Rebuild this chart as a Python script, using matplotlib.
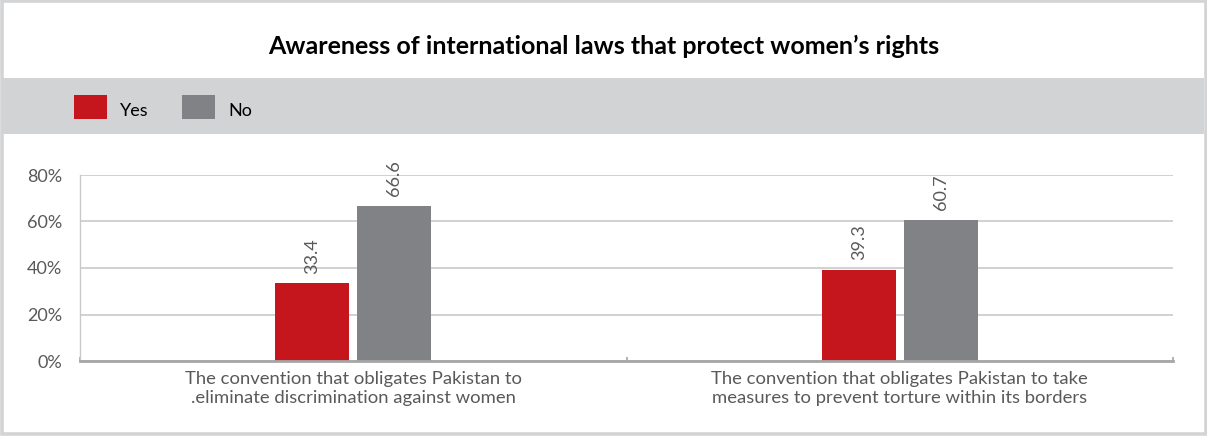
import matplotlib
matplotlib.use("Agg")
import matplotlib.pyplot as plt
from matplotlib.patches import Rectangle
import numpy as np

plt.rcParams['font.family'] = ['Lato', 'DejaVu Sans']

title = "Awareness of international laws that protect women\u2019s rights"
categories = [
    "The convention that obligates Pakistan to\n.eliminate discrimination against women",
    "The convention that obligates Pakistan to take\nmeasures to prevent torture within its borders",
]
series_names = ["Yes", "No"]
yes_values = [33.4, 39.3]
no_values = [66.6, 60.7]
yticks = [0, 20, 40, 60, 80]
ytick_labels = ["0%", "20%", "40%", "60%", "80%"]

RED = "#c4161c"
GREY = "#808285"
BAND = "#d1d3d4"
TEXT = "#595959"
GRID = "#c9c9c9"

W, H = 1207, 436
fig = plt.figure(figsize=(W / 100, H / 100), dpi=100)
fig.patch.set_facecolor("white")

def fx(px):
    return px / W

def fy(py):
    return 1 - py / H

# outer frame
fig.patches.append(Rectangle((fx(1.5), fy(433.5)), fx(W - 3), (433.5 - 1.5) / H,
                             transform=fig.transFigure, facecolor="none",
                             edgecolor="#d3d4d6", linewidth=2.6, zorder=0))
# legend band
fig.patches.append(Rectangle((fx(3), fy(134)), fx(1201), 56 / H,
                             transform=fig.transFigure, facecolor=BAND,
                             edgecolor="none", zorder=0))

fig.text(fx(604), fy(46), title, ha="center", va="center",
         fontsize=18, fontweight="bold", color="black")

# legend entries
legend_items = [(series_names[0], RED, 74), (series_names[1], GREY, 182)]
for name, col, x0 in legend_items:
    fig.patches.append(Rectangle((fx(x0), fy(119)), fx(33), 24 / H,
                                 transform=fig.transFigure, facecolor=col,
                                 edgecolor="none", zorder=1))
    fig.text(fx(x0 + 46), fy(111), name, ha="left", va="center",
             fontsize=13, color="black")

ax = fig.add_axes([fx(80), fy(361), fx(1173 - 80), (361 - 175) / H])
x = np.arange(len(categories))
bw = 0.135
gap = 0.0146
off = (bw + gap) / 2
b1 = ax.bar(x - off, yes_values, bw, color=RED, zorder=3)
b2 = ax.bar(x + off, no_values, bw, color=GREY, zorder=3)
for bars, vals in ((b1, yes_values), (b2, no_values)):
    for rect, v in zip(bars, vals):
        ax.annotate(f"{v:.1f}", (rect.get_x() + rect.get_width() / 2, v),
                    xytext=(0, 7), textcoords="offset points",
                    rotation=90, ha="center", va="bottom",
                    fontsize=13, color=TEXT)

ax.set_xlim(-0.5, len(categories) - 0.5)
ax.set_ylim(0, 80)
ax.set_yticks(yticks)
ax.set_yticklabels(ytick_labels)
ax.yaxis.grid(True, color=GRID, linewidth=1.2, zorder=0)
ax.set_axisbelow(True)
ax.tick_params(axis="y", length=0, pad=13, labelsize=13, labelcolor=TEXT)

ax.set_xticks(x)
ax.set_xticklabels(categories, fontsize=13.3, color=TEXT, linespacing=1.25)
ax.tick_params(axis="x", which="major", length=0, pad=7)
ax.set_xticks(np.arange(-0.5, len(categories)), minor=True)
ax.tick_params(axis="x", which="minor", direction="in", length=3,
               width=1.2, color="#a6a6a6")

for s in ("top", "right"):
    ax.spines[s].set_visible(False)
ax.spines["left"].set_color(GRID)
ax.spines["left"].set_linewidth(1.0)
ax.spines["bottom"].set_color("#a6a6a6")
ax.spines["bottom"].set_linewidth(2.0)
ax.spines["bottom"].set_zorder(4)

fig.savefig("out.png", dpi=100, facecolor="white")
